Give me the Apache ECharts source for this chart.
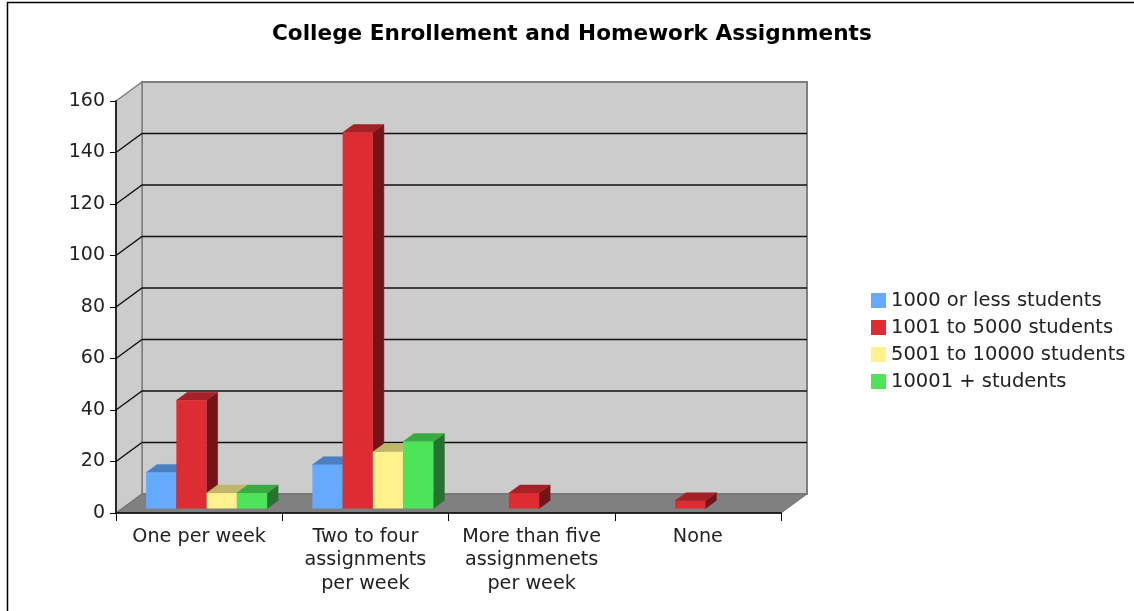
<!DOCTYPE html>
<html><head><meta charset="utf-8">
<style>html,body{margin:0;padding:0;background:#fff}#c{width:1134px;height:611px}</style>
<script src="https://cdn.jsdelivr.net/npm/echarts@6/dist/echarts.min.js"></script>
</head><body><div id="c"></div>
<script>
const titleText = 'College Enrollement and Homework Assignments';
const categories = ['One per week', 'Two to four\nassignments\nper week', 'More than five\nassignmenets\nper week', 'None'];
const seriesNames = ['1000 or less students', '1001 to 5000 students', '5001 to 10000 students', '10001 + students'];
const small = [14, 17, 0, 0];
const medium = [42, 146, 6, 3];
const large = [6, 22, 0, 0];
const huge = [6, 26, 0, 0];
const tickValues = [0, 20, 40, 60, 80, 100, 120, 140, 160];
const seriesValues = [small, medium, large, huge];

const faces = [
  {front: '#66aaff', top: '#4a80c2', side: '#33609a'},
  {front: '#de2c33', top: '#a62027', side: '#731418'},
  {front: '#fff28d', top: '#bfb66a', side: '#807946'},
  {front: '#4ee45a', top: '#3aab43', side: '#267330'}
];
const DX = 26, DY = 19;            // depth of the plot box
const BX = 11, BY = 8;             // depth of each bar
const INX = 7.5, INY = 4.5;        // bars stand this far into the box
const GROUP = 0.728;               // share of band used by a group

const chart = echarts.init(document.getElementById('c'), null, {renderer: 'canvas'});

function poly(points, fill, stroke, width) {
  return {type: 'polygon', shape: {points}, style: {fill, stroke: stroke || fill, lineWidth: width || 0.5}, silent: true};
}

function renderBox(params, api) {
  const cs = params.coordSys;
  const l = cs.x, r = cs.x + cs.width, t = cs.y, b = cs.y + cs.height;
  const kids = [
    poly([[l + DX, t - DY], [r + DX, t - DY], [r + DX, b - DY], [l + DX, b - DY]], '#cccccc', '#808080', 2),
    poly([[l, t], [l + DX, t - DY], [l + DX, b - DY], [l, b]], '#cccccc', '#808080', 1.5),
    poly([[l, b], [l + DX, b - DY], [r + DX, b - DY], [r, b]], '#808080', '#707070', 1)
  ];
  tickValues.slice(1, -1).forEach(v => {
    const y = api.coord([0, v])[1];
    kids.push({type: 'polyline', silent: true,
      shape: {points: [[l, y], [l + DX, y - DY], [r + DX, y - DY]]},
      style: {fill: null, stroke: '#111111', lineWidth: 1.4}});
  });
  return {type: 'group', children: kids};
}

function barRenderer(seriesIndex) {
  return function (params, api) {
    const cat = api.value(0), val = api.value(1);
    if (!val) return null;
    const band = api.size([1, 0])[0];
    const w = band * GROUP / seriesNames.length;
    const base = api.coord([cat, 0]);
    const topPt = api.coord([cat, val]);
    const x0 = base[0] - band * GROUP / 2 + seriesIndex * w + INX;
    const x1 = x0 + w;
    const y0 = base[1] - INY;
    const y1 = topPt[1] - INY;
    const f = faces[seriesIndex];
    return {type: 'group', children: [
      poly([[x1, y0], [x1 + BX, y0 - BY], [x1 + BX, y1 - BY], [x1, y1]], f.side),
      poly([[x0, y1], [x0 + BX, y1 - BY], [x1 + BX, y1 - BY], [x1, y1]], f.top),
      {type: 'rect', silent: true, shape: {x: x0, y: y1, width: w, height: y0 - y1}, style: {fill: f.front}}
    ]};
  };
}

const barSeries = seriesNames.map((name, i) => ({
  name, type: 'custom', coordinateSystem: 'cartesian2d', z: 3 + i,
  itemStyle: {color: faces[i].front},
  encode: {x: 0, y: 1},
  data: seriesValues[i].map((v, c) => [c, v]),
  renderItem: barRenderer(i),
  animation: false, clip: false
}));

chart.setOption({
  animation: false,
  backgroundColor: '#ffffff',
  textStyle: {fontFamily: '"DejaVu Sans"'},
  title: {text: titleText, left: 272, top: 23, padding: 0,
    textStyle: {fontFamily: '"DejaVu Sans"', fontWeight: 'bold', fontSize: 21.6, color: '#000'}},
  legend: {orient: 'vertical', left: 871, top: 287, padding: 0, itemGap: 0,
    itemWidth: 15, itemHeight: 15, icon: 'rect', selectedMode: false, data: seriesNames,
    textStyle: {fontFamily: '"DejaVu Sans"', fontSize: 19.5, color: '#222', padding: [0, 0, 0, 0], lineHeight: 27, height: 27}},
  grid: {left: 116, right: 353, top: 101, bottom: 98, containLabel: false},
  xAxis: {type: 'category', data: categories, boundaryGap: true,
    axisLine: {show: true, lineStyle: {color: '#000', width: 1.5}},
    axisTick: {show: true, alignWithLabel: false, length: 8, lineStyle: {color: '#000', width: 1}},
    axisLabel: {interval: 0, color: '#222', fontSize: 19.2, fontFamily: '"DejaVu Sans"', lineHeight: 23.5, margin: 12},
    splitLine: {show: false}, z: 10},
  yAxis: {type: 'value', min: 0, max: 160, interval: 20,
    axisLine: {show: true, lineStyle: {color: '#000', width: 1.5}},
    axisTick: {show: true, length: 6, lineStyle: {color: '#000', width: 1}},
    axisLabel: {color: '#222', fontSize: 19, fontFamily: '"DejaVu Sans"', margin: 11, padding: [3, 0, 0, 0]},
    splitLine: {show: false}, z: 10},
  graphic: [{type: 'polyline', silent: true, z: -1,
    shape: {points: [[7.5, 611], [7.5, 2.5], [1134, 2.5]]},
    style: {fill: null, stroke: '#000', lineWidth: 1.5}}],
  series: [
    {type: 'custom', coordinateSystem: 'cartesian2d', z: 1, data: [[0, 0]], renderItem: renderBox, silent: true, encode: {x: 0, y: 1}, clip: false, animation: false, tooltip: {show: false}},
    ...barSeries
  ]
});
</script></body></html>
